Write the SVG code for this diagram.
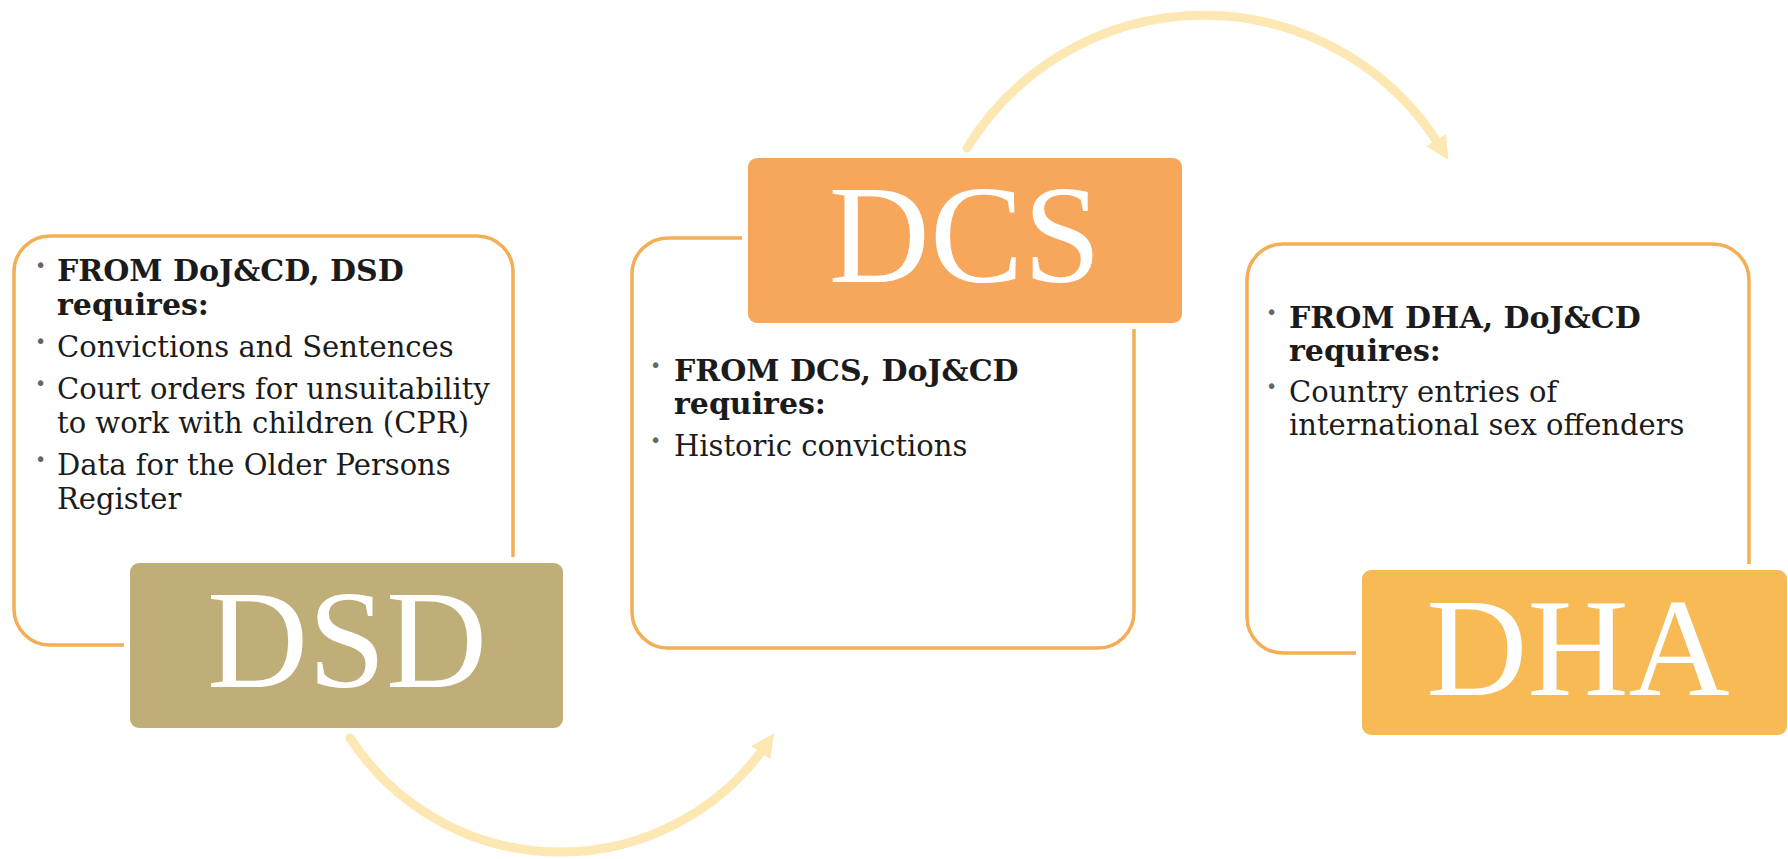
<svg xmlns="http://www.w3.org/2000/svg" width="1788" height="859" viewBox="0 0 1788 859">
  <defs>
    <style>
      .frame{fill:#ffffff;stroke:#F4AE55;stroke-width:3.5}
      .tag{stroke:#ffffff;stroke-width:12;paint-order:stroke}
      .tag-text{font-family:"Liberation Serif",serif;font-size:140px;fill:#ffffff;text-anchor:middle}
      .body{font-family:"DejaVu Serif","Liberation Serif",serif;font-size:29px;fill:#1b1b1b}
      .b{font-weight:bold;font-size:30px}
      .dot{font-family:"DejaVu Sans",sans-serif;font-size:19px;fill:#666666}
      .flow{fill:none;stroke:#FDE7B2;stroke-width:9;stroke-linecap:round}
    </style>
    <marker id="head" viewBox="0 0 10 10" refX="4" refY="5" markerWidth="2.6" markerHeight="2.6" orient="auto" markerUnits="strokeWidth">
      <path d="M0,0 L10,5 L0,10 z" fill="#FDE7B2"/>
    </marker>
  </defs>

  <rect width="1788" height="859" fill="#ffffff"/>

  <!-- DSD: requirements panel with label tab at bottom right -->
  <g id="node-dsd">
    <rect class="frame" x="14" y="236" width="499" height="409" rx="36"/>
    <text class="dot" x="35" y="272">•</text>
    <text class="body b" x="57" y="281">FROM DoJ&amp;CD, DSD</text>
    <text class="body b" x="57" y="315">requires:</text>
    <text class="dot" x="35" y="348">•</text>
    <text class="body" x="57" y="357">Convictions and Sentences</text>
    <text class="dot" x="35" y="390">•</text>
    <text class="body" x="57" y="399">Court orders for unsuitability</text>
    <text class="body" x="57" y="433">to work with children (CPR)</text>
    <text class="dot" x="35" y="466">•</text>
    <text class="body" x="57" y="475">Data for the Older Persons</text>
    <text class="body" x="57" y="509">Register</text>
    <rect class="tag" x="130" y="563" width="433" height="165" rx="9" fill="#BFAE77"/>
    <text class="tag-text" x="347" y="687">DSD</text>
  </g>

  <!-- DCS: requirements panel with label tab at top right -->
  <g id="node-dcs">
    <rect class="frame" x="632" y="238" width="502" height="410" rx="36"/>
    <text class="dot" x="650" y="372">•</text>
    <text class="body b" x="674" y="381">FROM DCS, DoJ&amp;CD</text>
    <text class="body b" x="674" y="414">requires:</text>
    <text class="dot" x="650" y="447">•</text>
    <text class="body" x="674" y="456">Historic convictions</text>
    <rect class="tag" x="748" y="158" width="434" height="165" rx="9" fill="#F6A75C"/>
    <text class="tag-text" x="965" y="282">DCS</text>
  </g>

  <!-- DHA: requirements panel with label tab at bottom right -->
  <g id="node-dha">
    <rect class="frame" x="1247" y="244" width="502" height="409" rx="36"/>
    <text class="dot" x="1266" y="319">•</text>
    <text class="body b" x="1289" y="328">FROM DHA, DoJ&amp;CD</text>
    <text class="body b" x="1289" y="361">requires:</text>
    <text class="dot" x="1266" y="393">•</text>
    <text class="body" x="1289" y="402">Country entries of</text>
    <text class="body" x="1289" y="435">international sex offenders</text>
    <rect class="tag" x="1362" y="570" width="425" height="165" rx="9" fill="#F7BA55"/>
    <text class="tag-text" x="1578" y="695">DHA</text>
  </g>

  <!-- curved flow arrows between the departments -->
  <g id="connectors">
    <path class="flow" d="M350,738 A251,251 0 0 0 766,745" marker-end="url(#head)"/>
    <path class="flow" d="M967,148 A278,278 0 0 1 1441,148" marker-end="url(#head)"/>
  </g>
</svg>
